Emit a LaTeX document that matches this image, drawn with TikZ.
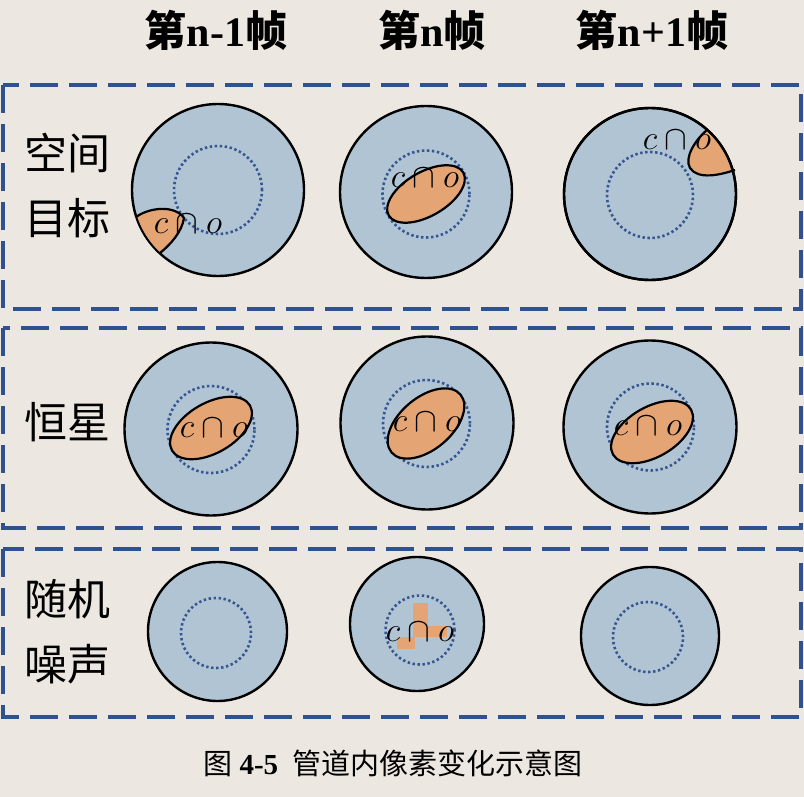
\RequirePackage{fix-cm}
\documentclass[tikz,border=0pt]{standalone}
\usepackage{fontspec}
\setmainfont{Liberation Serif}
\newfontfamily\cjk{Noto Sans CJK SC}
\definecolor{bgcol}{RGB}{236,232,225}
\definecolor{cfill}{RGB}{176,196,212}
\definecolor{orng}{RGB}{228,164,116}
\definecolor{dashcol}{RGB}{47,82,143}
\definecolor{dotcol}{RGB}{55,85,145}
\begin{document}
\begin{tikzpicture}[x=1pt,y=-1pt,
  outer/.style={circle,fill=cfill,draw=black,line width=2.4pt,inner sep=0pt},
  inner/.style={draw=dotcol,line width=2.6pt,dash pattern=on 2.4pt off 2.6pt},
  blob/.style={fill=orng,draw=black,line width=2.2pt},
  grp/.style={draw=dashcol,line width=3.2pt,dash pattern=on 28pt off 11pt},
  lab/.style={font=\cjk\fontsize{43}{65}\selectfont,align=center,inner sep=0pt},
  hdr/.style={font=\fontsize{42}{42}\selectfont\bfseries,inner sep=0pt},
  ci/.style={font=\fontsize{34}{34}\selectfont,inner sep=0pt},
  capt/.style={font=\fontsize{29}{29}\selectfont,inner sep=0pt}]
\fill[bgcol] (0,0) rectangle (804,797);
\useasboundingbox (0,0) rectangle (804,797);

% group boxes
\draw[grp] (3,85) rectangle (801,309);
\draw[grp] (3,328) rectangle (801,528);
\draw[grp] (3,549) rectangle (801,717);

% headers
\node[hdr] (h1) at (216,30) {{\cjk 第}n-1{\cjk 帧}};
\node[hdr] (h2) at (432,30) {{\cjk 第}n{\cjk 帧}};
\node[hdr] (h3) at (652,30) {{\cjk 第}n+1{\cjk 帧}};

% row labels
\node[lab] (l1) at (67,186) {空间\\目标};
\node[lab] (l2) at (67,422) {恒星};
\node[lab] (l3) at (67,632) {随机\\噪声};

% ---------- row 1 ----------
\node[outer,minimum size=172pt] (c11) at (218,190) {};
\node[outer,minimum size=172pt] (c12) at (426,192) {};
\node[outer,minimum size=172pt] (c13) at (650,194) {};
\draw[inner] (218,190) circle[radius=44pt];
\draw[inner] (426,194) circle[radius=43.5pt];
\draw[inner] (650,195) circle[radius=43pt];

\begin{scope}
  \clip (218,190) circle[radius=85pt];
  \fill[orng] (118,217) -- (136,217) .. controls (150,207) and (175,205) .. (184,218)
     .. controls (182,232) and (170,245) .. (160,253) -- (150,272) -- (118,272) -- cycle;
\end{scope}
\draw[line width=2.2pt] (136,217) .. controls (150,207) and (175,205) .. (184,218)
     .. controls (182,232) and (170,245) .. (160,253);

\draw[blob,rotate around={30:(426,194)}] (426,194) ellipse[x radius=43pt,y radius=22pt];

\begin{scope}
  \clip (650,194) circle[radius=85pt];
  \fill[orng] (715,113) -- (707,130) .. controls (695,140) and (684,158) .. (690,168)
     .. controls (698,180) and (720,175) .. (735,170) -- (770,170) -- (770,100) -- (715,100) -- cycle;
\end{scope}
\draw[line width=2.2pt] (707,130) .. controls (695,140) and (684,158) .. (690,168)
     .. controls (698,180) and (720,175) .. (735,170);
\draw[line width=2.4pt] (650,194) circle[radius=86pt];

\node[ci] (t11) at (188,224) {$c\cap o$};
\node[ci] (t12) at (425,178) {$c\cap o$};
\node[ci] (t13) at (677,140) {$c\cap o$};

% ---------- row 2 ----------
\node[outer,minimum size=173pt] (c21) at (211,429) {};
\node[outer,minimum size=173pt] (c22) at (427,423) {};
\node[outer,minimum size=173pt] (c23) at (650,427) {};
\draw[inner] (211,429.5) circle[radius=43.5pt];
\draw[inner] (426.5,423.5) circle[radius=43.5pt];
\draw[inner] (650.5,427) circle[radius=43.5pt];
\draw[blob,rotate around={30:(211,428)}] (211,428) ellipse[x radius=45pt,y radius=25pt];
\draw[blob,rotate around={40:(426,423.5)}] (426,423.5) ellipse[x radius=45pt,y radius=26pt];
\draw[blob,rotate around={30:(652,432)}] (652,432) ellipse[x radius=45pt,y radius=25pt];
\node[ci] (t21) at (214,428) {$c\cap o$};
\node[ci] (t22) at (427,422) {$c\cap o$};
\node[ci] (t23) at (648,426) {$c\cap o$};

% ---------- row 3 ----------
\node[outer,minimum size=139pt] (c31) at (217.5,631.5) {};
\node[outer,minimum size=134pt] (c32) at (417,624) {};
\node[outer,minimum size=138pt] (c33) at (650,636) {};
\draw[inner] (216,633) circle[radius=35pt];
\draw[inner] (420,630) circle[radius=34.5pt];
\draw[inner] (648,637) circle[radius=35pt];
\fill[orng] (413,603) rectangle (428,637);
\fill[orng] (413,626) rectangle (447,637);
\fill[orng] (397,637) rectangle (415,649);
\node[ci] (t32) at (420,632) {$c\cap o$};

% caption
\node[capt] (cap) at (393,763) {{\cjk 图} \textbf{4-5}\ \ {\cjk 管道内像素变化示意图}};
\end{tikzpicture}
\end{document}
